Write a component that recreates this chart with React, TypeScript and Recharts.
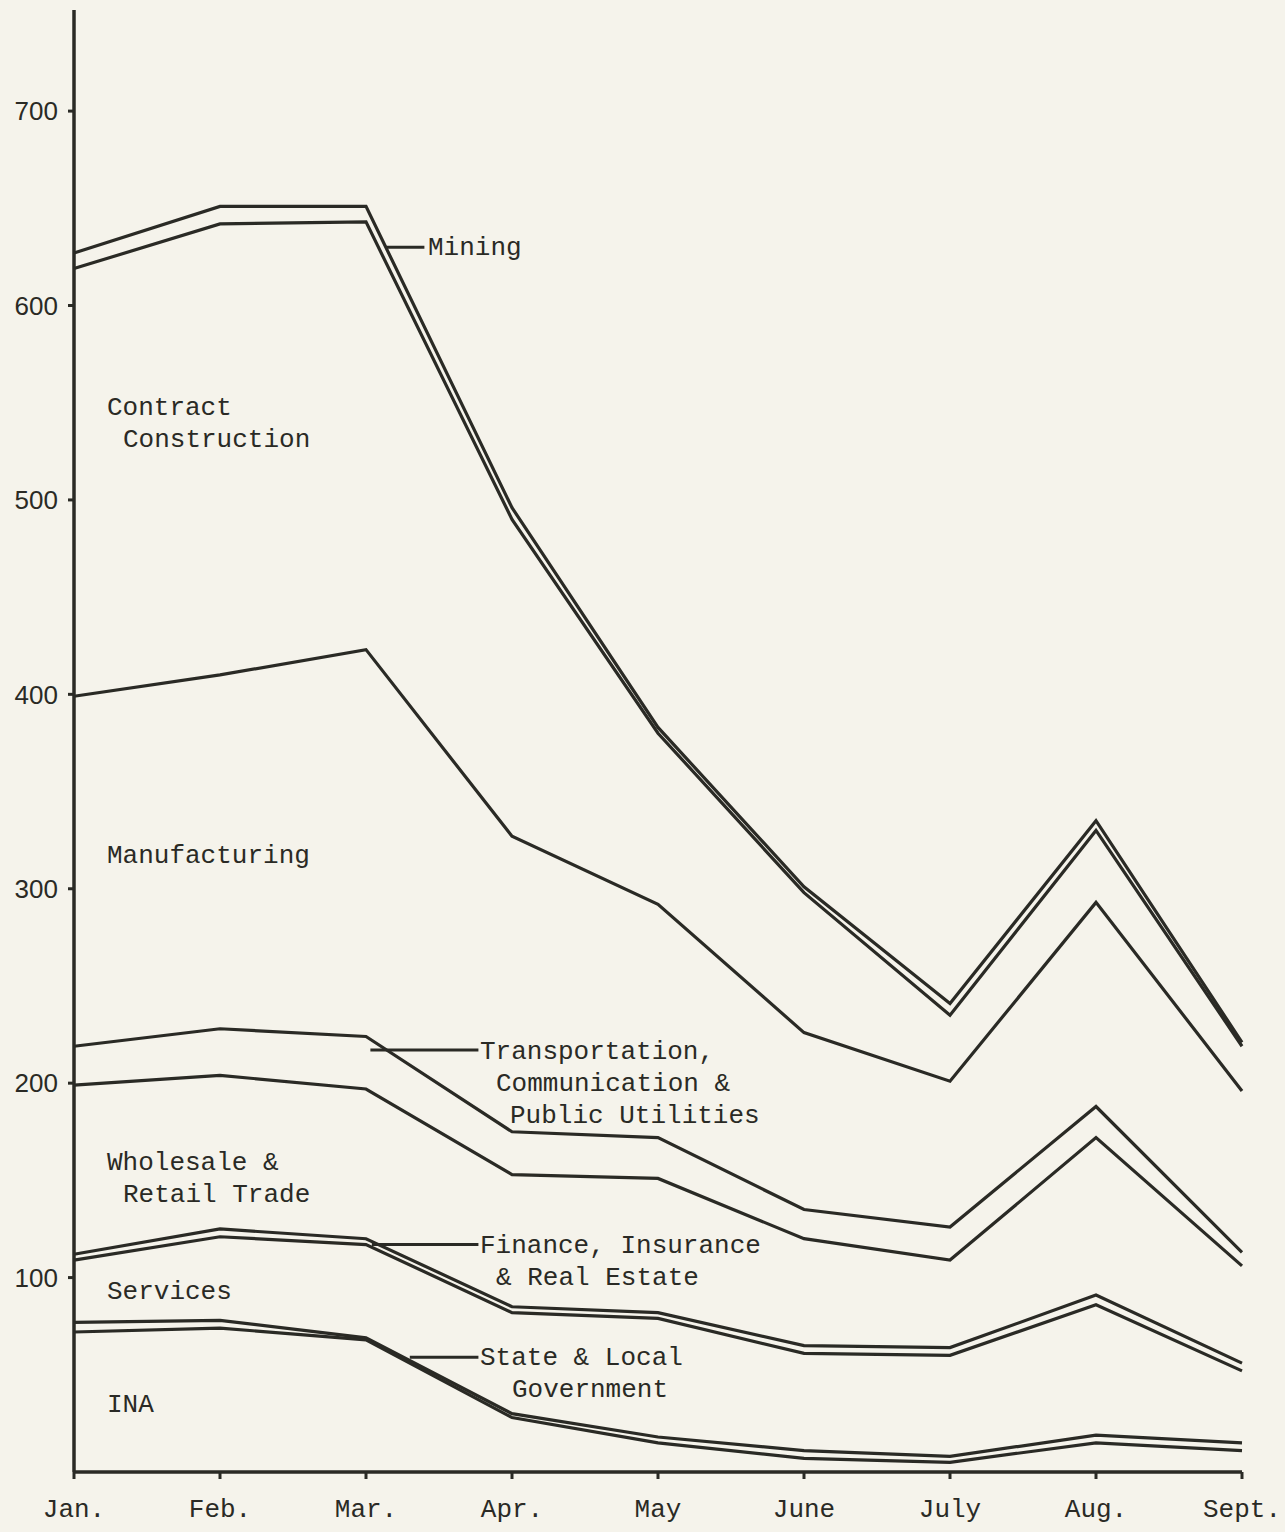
import { LineChart, Line, XAxis, YAxis, ReferenceLine } from 'recharts';

// Months on the x axis
const months = ['Jan.', 'Feb.', 'Mar.', 'Apr.', 'May', 'June', 'July', 'Aug.', 'Sept.'];

// Cumulative levels (the top line of each band)
const mining = [627, 651, 651, 496, 383, 301, 241, 335, 221];
const contractConstruction = [619, 642, 643, 490, 380, 298, 235, 330, 219];
const manufacturing = [399, 410, 423, 327, 292, 226, 201, 293, 196];
const transportation = [219, 228, 224, 175, 172, 135, 126, 188, 113];
const wholesaleRetail = [199, 204, 197, 153, 151, 120, 109, 172, 106];
const finance = [112, 125, 120, 85, 82, 65, 64, 91, 56];
const services = [109, 121, 117, 82, 79, 61, 60, 86, 52];
const stateLocal = [77, 78, 69, 30, 18, 11, 8, 19, 15];
const ina = [72, 74, 68, 28, 15, 7, 5, 15, 11];

const yTicks = [100, 200, 300, 400, 500, 600, 700];

const data = months.map((m, i) => ({
  idx: i,
  mining: mining[i],
  contractConstruction: contractConstruction[i],
  manufacturing: manufacturing[i],
  transportation: transportation[i],
  wholesaleRetail: wholesaleRetail[i],
  finance: finance[i],
  services: services[i],
  stateLocal: stateLocal[i],
  ina: ina[i],
}));

const seriesKeys = [
  'mining',
  'contractConstruction',
  'manufacturing',
  'transportation',
  'wholesaleRetail',
  'finance',
  'services',
  'stateLocal',
  'ina',
];

const INK = '#2a2a25';
const PAPER = '#f5f3eb';
const MONO = '"Liberation Mono", "DejaVu Sans Mono", monospace';

// band labels: [text, x, y]
const labels: [string, number, number][] = [
  ['Mining', 428, 248],
  ['Contract', 107, 408],
  ['Construction', 123, 440],
  ['Manufacturing', 107, 856],
  ['Transportation,', 480, 1052],
  ['Communication &', 496, 1084],
  ['Public Utilities', 510, 1116],
  ['Wholesale &', 107, 1163],
  ['Retail Trade', 123, 1195],
  ['Finance, Insurance', 480, 1246],
  ['& Real Estate', 496, 1278],
  ['Services', 107, 1292],
  ['State & Local', 480, 1358],
  ['Government', 512, 1390],
  ['INA', 107, 1405],
];

// leader lines from the label to its band: [x1, x2, y]
const leaders: [number, number, number][] = [
  [2.13, 2.4, 630],
  [2.03, 2.77, 217],
  [2.04, 2.77, 117],
  [2.3, 2.77, 59],
];

const App = () => {
  return (
    <div style={{ position: 'absolute', left: 0, top: 0, width: 1285, height: 1532, background: PAPER }}>
      <LineChart width={1285} height={1532} data={data} margin={{ top: 10, right: 43, bottom: 0, left: 0 }}>
        <XAxis
          dataKey="idx"
          type="number"
          domain={[0, 8]}
          ticks={[0, 1, 2, 3, 4, 5, 6, 7, 8]}
          interval={0}
          tickFormatter={(i: number) => months[i]}
          height={60}
          tickSize={7}
          tickMargin={20}
          axisLine={{ stroke: INK, strokeWidth: 3.5 }}
          tickLine={{ stroke: INK, strokeWidth: 3 }}
          tick={{ fill: INK, fontFamily: MONO, fontSize: 26 }}
        />
        <YAxis
          type="number"
          domain={[0, 752]}
          ticks={yTicks}
          interval={0}
          width={74}
          tickSize={6}
          tickMargin={10}
          axisLine={{ stroke: INK, strokeWidth: 3.5 }}
          tickLine={{ stroke: INK, strokeWidth: 3 }}
          tick={{ fill: INK, fontFamily: '"Liberation Sans", Arial, sans-serif', fontSize: 26 }}
        />
        {leaders.map(([x1, x2, y], i) => (
          <ReferenceLine
            key={i}
            segment={[
              { x: x1, y },
              { x: x2, y },
            ]}
            stroke={INK}
            strokeWidth={3}
          />
        ))}
        {seriesKeys.map((k) => (
          <Line
            key={k}
            type="linear"
            dataKey={k}
            stroke={INK}
            strokeWidth={3.2}
            dot={false}
            activeDot={false}
            isAnimationActive={false}
          />
        ))}
      </LineChart>
      <svg
        width={1285}
        height={1532}
        style={{ position: 'absolute', left: 0, top: 0, pointerEvents: 'none' }}
      >
        {labels.map(([t, x, y], i) => (
          <text
            key={i}
            x={x}
            y={y}
            fill={INK}
            fontFamily={MONO}
            fontSize={26}
            dominantBaseline="central"
            style={{ whiteSpace: 'pre' }}
          >
            {t}
          </text>
        ))}
      </svg>
    </div>
  );
};

export default App;
